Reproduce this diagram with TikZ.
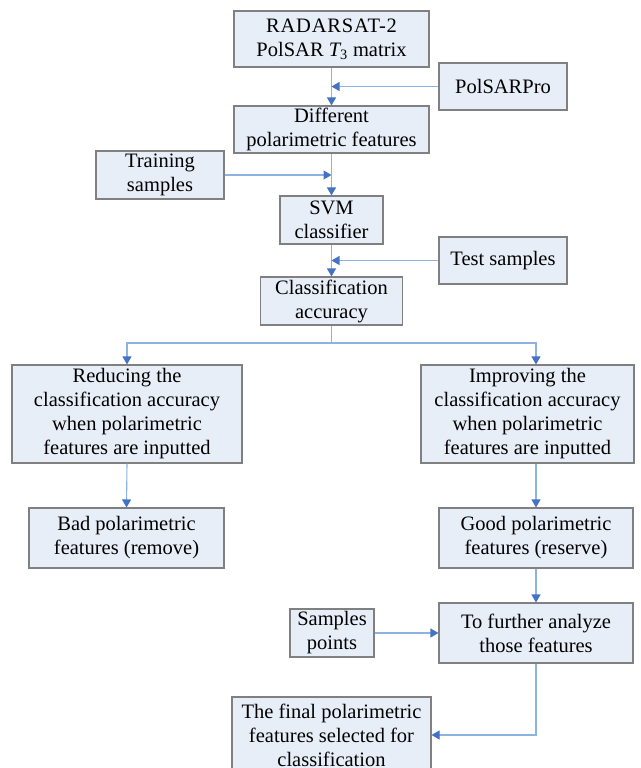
\documentclass[tikz,border=0pt]{standalone}
\usepackage{fontspec}
\setmainfont{Liberation Serif}
\newfontfamily\tnr{Liberation Serif}
\usetikzlibrary{arrows.meta}
\definecolor{boxfill}{RGB}{232,238,248}
\definecolor{boxdraw}{RGB}{128,128,128}
\definecolor{linblue}{RGB}{141,179,226}
\definecolor{arrblue}{RGB}{68,114,196}
\tikzset{
  fbox/.style={draw=boxdraw, fill=boxfill, line width=1.1pt, align=center,
    inner sep=0pt, font=\tnr\fontsize{20.5}{24}\selectfont},
  conn/.style={draw=linblue, line width=1.1pt,
    -{Triangle[length=8pt,width=9pt,color=arrblue]}},
  plain/.style={draw=linblue, line width=1.1pt}
}
\begin{document}
\begin{tikzpicture}[x=1pt,y=-1pt]
\useasboundingbox (0,0) rectangle (640,768);
\node[fbox, minimum width=195pt, minimum height=56pt] (rad) at (331.5,39) {{\addfontfeature{LetterSpace=4}RADARSAT-2}\\PolSAR {\itshape T}\textsubscript{3} matrix};
\node[fbox, minimum width=128pt, minimum height=47pt] (pol) at (503,86.5) {PolSARPro};
\node[fbox, minimum width=195pt, minimum height=47pt] (dif) at (331.5,129.5) {Different\\polarimetric features};
\node[fbox, minimum width=128pt, minimum height=48pt] (tr) at (160,175) {Training\\samples};
\node[fbox, minimum width=103pt, minimum height=48pt] (svm) at (331.5,220) {SVM\\classifier};
\node[fbox, minimum width=128pt, minimum height=47pt] (te) at (503,260.5) {Test samples};
\node[fbox, minimum width=142pt, minimum height=48pt] (acc) at (331.5,301) {Classification\\accuracy};
\node[fbox, minimum width=230pt, minimum height=98pt] (red) at (127,414) {Reducing the\\classification accuracy\\when polarimetric\\features are inputted};
\node[fbox, minimum width=213pt, minimum height=98pt] (imp) at (527.5,414) {Improving the\\classification accuracy\\when polarimetric\\features are inputted};
\node[fbox, minimum width=195pt, minimum height=60pt] (bad) at (126.5,538) {Bad polarimetric\\features (remove)};
\node[fbox, minimum width=194pt, minimum height=60pt] (good) at (536,538) {Good polarimetric\\features (reserve)};
\node[fbox, minimum width=84pt, minimum height=48pt] (smp) at (332,633) {Samples\\points};
\node[fbox, minimum width=194pt, minimum height=60pt] (fur) at (536,633) {To further analyze\\those features};
\node[fbox, minimum width=199pt, minimum height=76pt] (fin) at (331.5,735) {The final polarimetric\\features selected for\\classification};
\coordinate (split) at (331.5,343);
% connectors
\draw[conn] (rad.south) -- (dif.north);
\draw[conn] (pol.west) -- (pol.west -| rad.south);
\draw[conn] (dif.south) -- (svm.north);
\draw[conn] (tr.east) -- (tr.east -| dif.south);
\draw[conn] (svm.south) -- (acc.north);
\draw[conn] (te.west) -- (te.west -| svm.south);
\draw[plain] (acc.south) -- (split);
\draw[conn] (split) -| (red.north);
\draw[conn] (split) -| (good.north |- imp.north);
\draw[conn] (red.south) -- (bad.north);
\draw[conn] (good.north |- imp.south) -- (good.north);
\draw[conn] (good.south) -- (fur.north);
\draw[conn] (smp.east) -- (fur.west);
\draw[conn] (fur.south) |- (fin.east);
\end{tikzpicture}
\end{document}
